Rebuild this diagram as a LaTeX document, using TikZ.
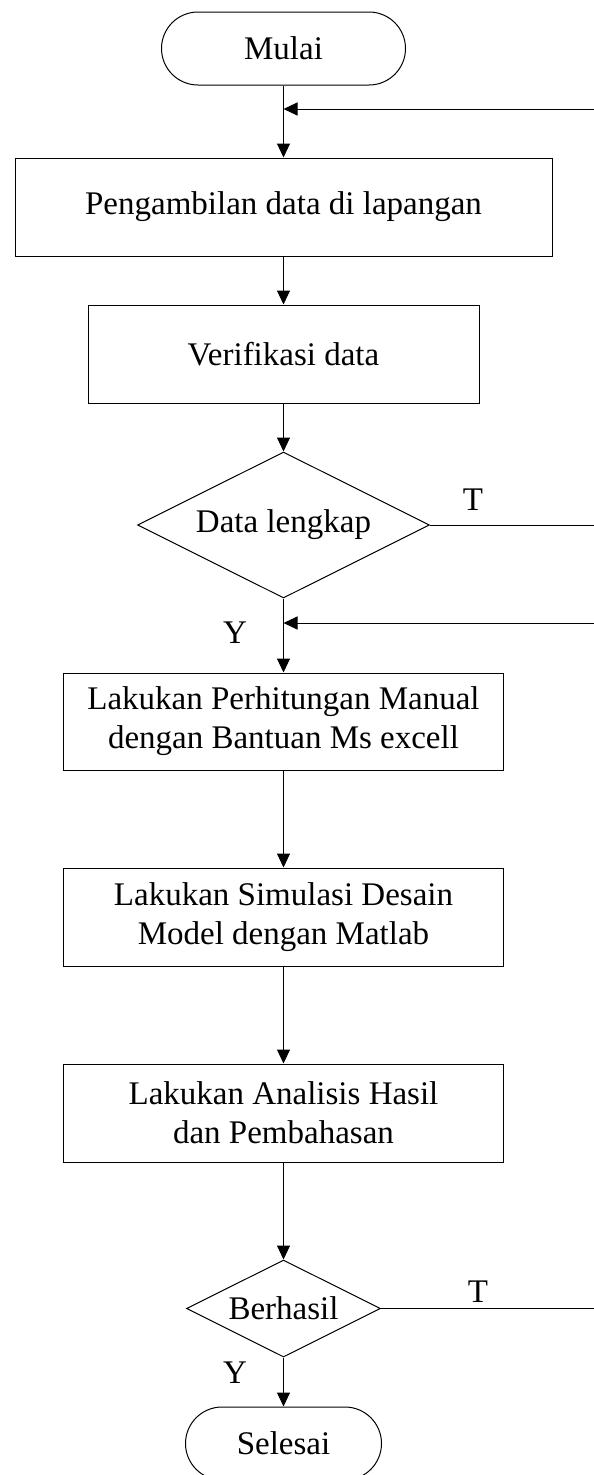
\documentclass[tikz,border=0pt]{standalone}
\usepackage{fontspec}
\setmainfont{Liberation Serif}
\usetikzlibrary{arrows.meta,shapes.geometric}

\begin{document}
\begin{tikzpicture}[x=1pt, y=-1pt, line width=1pt,
    font=\fontsize{33}{39}\selectfont,
    terminal/.style={draw, rounded corners=36.5pt, minimum height=73pt, inner sep=0pt},
    proses/.style={draw, rectangle, minimum height=98pt, align=center, inner sep=0pt},
    keputusan/.style={draw, diamond, aspect=2, inner sep=0pt},
    panah/.style={-{Triangle[length=14pt,width=13pt]}}]

    \pgfmathsetmacro{\xc}{283.5}
    \pgfmathsetmacro{\xr}{594}

    % batas gambar
    \useasboundingbox (0,0) rectangle (594,1475);

    % terminal dan proses
    \node[terminal, minimum width=244pt] (mulai) at (\xc,48.5) {Mulai};
    \node[proses, minimum width=537pt] (ambil) at (\xc,207) {Pengambilan data di lapangan};
    \node[proses, minimum width=391pt] (verif) at (\xc,354) {Verifikasi data};
    \node[keputusan, minimum width=292pt, minimum height=146pt] (cek) at (\xc,525) {Data lengkap};
    \node[proses, minimum width=440pt, minimum height=97pt] (hitung) at (\xc,721.5)
        {Lakukan Perhitungan Manual\\dengan Bantuan Ms excell};
    \node[proses, minimum width=440pt] (simulasi) at (\xc,917)
        {Lakukan Simulasi Desain\\Model dengan Matlab};
    \node[proses, minimum width=440pt] (analisis) at (\xc,1113)
        {Lakukan Analisis Hasil\\dan Pembahasan};
    \node[keputusan, minimum width=194pt, minimum height=97pt] (berhasil) at (\xc,1308.5) {Berhasil};
    \node[terminal, minimum width=196pt] (selesai) at (\xc,1443.5) {Selesai};

    % alur utama
    \draw[panah] (mulai) -- (ambil);
    \draw[panah] (ambil) -- (verif);
    \draw[panah] (verif) -- (cek);
    \draw[panah] (cek) -- (hitung);
    \draw[panah] (hitung) -- (simulasi);
    \draw[panah] (simulasi) -- (analisis);
    \draw[panah] (analisis) -- (berhasil);
    \draw[panah] (berhasil) -- (selesai);

    % cabang T (tidak) ke kanan
    \coordinate (tidak1) at (\xr,525);
    \coordinate (tidak2) at (\xr,1308.5);
    \draw (cek.east) -- (tidak1);
    \draw (berhasil.east) -- (tidak2);

    % panah kembali dari kanan
    \coordinate (kembali1) at (\xr,109);
    \coordinate (kembali2) at (\xr,623);
    \draw[panah] (kembali1) -- (kembali1 -| mulai.south);
    \draw[panah] (kembali2) -- (kembali2 -| cek.south);

    % label Y dan T
    \node (labelT1) at (473,500) {T};
    \node (labelY1) at (235,633) {Y};
    \node (labelT2) at (478,1292) {T};
    \node (labelY2) at (235,1373) {Y};

\end{tikzpicture}
\end{document}
